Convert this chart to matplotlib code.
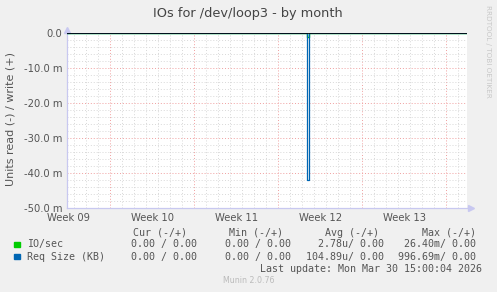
import numpy as np
import matplotlib
matplotlib.use("Agg")
import matplotlib.pyplot as plt
from matplotlib.patches import Rectangle

# data (days since start of the month window, values in units)
sample_day = [0.0, 20.0, 20.17, 33.35]
io_read = [0.0, -1.1e-3, 0.0, 0.0]
req_read = [0.0, -41.9e-3, 0.0, 0.0]
week_labels = ["Week 09", "Week 10", "Week 11", "Week 12", "Week 13"]
week_starts = [3.625, 10.625, 17.625, 24.625, 31.625]
y_ticks = [0.0, -0.01, -0.02, -0.03, -0.04, -0.05]

legend_names = ["IO/sec", "Req Size (KB)"]
legend_colors = ["#00cc00", "#0066b3"]
cur_vals = ["0.00 / 0.00", "0.00 / 0.00"]
min_vals = ["0.00 / 0.00", "0.00 / 0.00"]
avg_vals = ["2.78u/ 0.00", "104.89u/ 0.00"]
max_vals = ["26.40m/ 0.00", "996.69m/ 0.00"]

W, H = 497, 292
bg = "#f0f0f0"
txt = "#555555"

def px(x, y):
  return x / W, 1 - y / H

fig = plt.figure(figsize=(W / 100, H / 100), dpi=100, facecolor=bg)
ax = fig.add_axes([66.7 / W, 1 - 208.3 / H, 400.3 / W, 175 / H])
ax.set_facecolor("white")
ax.set_xlim(0, 33.35)
ax.set_ylim(-0.05, 0)

# grid
for d in np.arange(week_starts[0] - 3, 33.35, 1.0):
  major = any(abs(d - w) < 1e-6 for w in week_starts)
  ax.axvline(d, color="#f0a0a0" if major else "#d8d8d8", lw=0.7,
             ls=(0, (1, 2)), zorder=1)
for v in np.arange(-0.048, -0.0001, 0.002):
  major = abs(round(v * 1000) % 10) < 1e-6
  ax.axhline(v, color="#f0a0a0" if major else "#d8d8d8", lw=0.7,
             ls=(0, (1, 2)), zorder=1)

# series
ax.plot(sample_day, io_read, drawstyle="steps-post", color=legend_colors[0], lw=1.0, zorder=3)
ax.plot(sample_day, req_read, drawstyle="steps-post", color=legend_colors[1], lw=0.9, zorder=4)
ax.axhline(0, color="black", lw=1.2, zorder=5)

# axes styling
for s in ["top", "right"]:
  ax.spines[s].set_visible(False)
for s in ["left", "bottom"]:
  ax.spines[s].set_color("#c8c8f0")
  ax.spines[s].set_linewidth(0.9)
ax.plot([0], [1.02], marker="^", color="#c8c8f0", ms=5, transform=ax.transAxes, clip_on=False)
ax.plot([1.01], [0], marker=">", color="#c8c8f0", ms=5, transform=ax.transAxes, clip_on=False)

ax.set_yticks(y_ticks)
ax.set_yticklabels(["0.0" if v == 0 else f"{v * 1000:.1f} m" for v in y_ticks])
ax.set_xticks([w - 3.5 for w in week_starts])
ax.set_xticklabels(week_labels)
ax.tick_params(axis="both", length=0, labelsize=7.2, colors=txt)
ax.tick_params(axis="y", pad=3)
ax.tick_params(axis="x", pad=3.5)

# texts
fig.text(*px(247.5, 14), "IOs for /dev/loop3 - by month", ha="center", va="center",
         fontsize=9.3, color="#444444")
fig.text(*px(10.5, 118.5), "Units read (-) / write (+)", rotation=90, ha="center",
         va="center", fontsize=8, color=txt)
fig.text(*px(488, 51.5), "RRDTOOL / TOBI OETIKER", rotation=270, ha="center",
         va="center", fontsize=5.2, color="#c8c8c8")

mono = dict(family="DejaVu Sans Mono", fontsize=7.2, color=txt, va="center")
for label, xr in zip(["Cur (-/+)", "Min (-/+)", "Avg (-/+)", "Max (-/+)"], [187, 283, 379, 476]):
  fig.text(*px(xr, 232.7), label, ha="right", **mono)
for i, yc in enumerate([244.3, 256.7]):
  fig.patches.append(Rectangle(px(14, yc + 2.7), 5.5 / W, 5.5 / H, color=legend_colors[i],
                               transform=fig.transFigure, figure=fig))
  fig.text(*px(26.7, yc), legend_names[i], ha="left", **mono)
  fig.text(*px(197, yc), cur_vals[i], ha="right", **mono)
  fig.text(*px(291, yc), min_vals[i], ha="right", **mono)
  fig.text(*px(383.5, yc), avg_vals[i], ha="right", **mono)
  fig.text(*px(476, yc), max_vals[i], ha="right", **mono)
fig.text(*px(482.5, 269), "Last update: Mon Mar 30 15:00:04 2026", ha="right", **mono)
fig.text(*px(248.5, 280.7), "Munin 2.0.76", ha="center", va="center", fontsize=5.7, color="#bbbbbb")

fig.savefig("out.png", dpi=100, facecolor=bg)
